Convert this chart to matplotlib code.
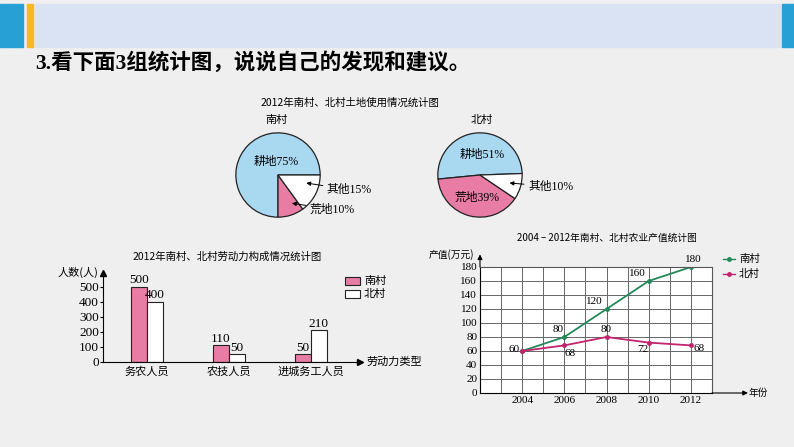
import matplotlib
matplotlib.use('Agg')
import matplotlib.pyplot as plt
from matplotlib.patches import Rectangle
import numpy as np

plt.rcParams['font.family'] = ['Noto Sans CJK SC', 'DejaVu Sans']
SERIF = ['Liberation Serif', 'Noto Sans CJK SC']

# data
land_parts = ['耕地', '荒地', '其他']
south_land = [75, 10, 15]
north_land = [51, 39, 10]

labor_cats = ['务农人员', '农技人员', '进城务工人员']
labor_south = [500, 110, 50]
labor_north = [400, 50, 210]

years = [2004, 2006, 2008, 2010, 2012]
value_south = [60, 80, 120, 160, 180]
value_north = [60, 68, 80, 72, 68]

W, H = 794, 447
BLUE = '#a9d8f1'
PINK = '#e87ca5'
GREEN = '#23895a'
MAGENTA = '#c2246e'
EDGE = '#222222'

fig = plt.figure(figsize=(W / 100, H / 100), dpi=100)
fig.patch.set_facecolor('#efefef')


def box(x0, y0, x1, y1):
    # pixel box (top-left origin) -> figure fraction rect
    return [x0 / W, 1 - y1 / H, (x1 - x0) / W, (y1 - y0) / H]


# background / header, in pixel coords
bg = fig.add_axes([0, 0, 1, 1])
bg.set_xlim(0, W)
bg.set_ylim(H, 0)
bg.axis('off')
bg.add_patch(Rectangle((35, 4), 745, 43, color='#dae3f3'))
bg.add_patch(Rectangle((0, 4), 23, 43, color='#27a0d6'))
bg.add_patch(Rectangle((27, 4), 6, 43, color='#f5b925'))
bg.add_patch(Rectangle((782, 4), 12, 43, color='#27a0d6'))
bg.text(35, 63, '3.看下面3组统计图，说说自己的发现和建议。', fontsize=15.5,
        fontweight='bold', family=SERIF, va='center', ha='left')

# ---- pies ----
bg.text(350, 103, '2012年南村、北村土地使用情况统计图', fontsize=7.5,
        ha='center', va='center')
bg.text(277, 120, '南村', fontsize=8, ha='center', va='center')
bg.text(482, 120, '北村', fontsize=8, ha='center', va='center')

pie_colors = [BLUE, PINK, 'white']
arrow = dict(arrowstyle='-|>', color='k', lw=0.7, mutation_scale=6,
             shrinkA=1, shrinkB=0)

ax1 = fig.add_axes(box(235, 132, 321, 218))
ax1.pie(south_land, colors=pie_colors, startangle=0, counterclock=True,
        wedgeprops=dict(edgecolor=EDGE, linewidth=0.9))
ax1.set_xlim(-1.02, 1.02)
ax1.set_ylim(-1.02, 1.02)
ax1.text(-0.05, 0.30, f'{land_parts[0]}{south_land[0]}%', fontsize=8.5,
         family=SERIF, ha='center', va='center')
ax1.annotate(f'{land_parts[2]}{south_land[2]}%', xy=(0.67, -0.19),
             xytext=(1.16, -0.35), fontsize=8.5, family=SERIF,
             ha='left', va='center', arrowprops=arrow, annotation_clip=False)
ax1.annotate(f'{land_parts[1]}{south_land[1]}%', xy=(0.33, -0.67),
             xytext=(0.76, -0.82), fontsize=8.5, family=SERIF,
             ha='left', va='center', arrowprops=arrow, annotation_clip=False)

ax2 = fig.add_axes(box(437, 132, 523, 218))
ax2.pie(north_land, colors=pie_colors, startangle=2, counterclock=True,
        wedgeprops=dict(edgecolor=EDGE, linewidth=0.9))
ax2.set_xlim(-1.02, 1.02)
ax2.set_ylim(-1.02, 1.02)
ax2.text(0.05, 0.47, f'{land_parts[0]}{north_land[0]}%', fontsize=8.5,
         family=SERIF, ha='center', va='center')
ax2.text(-0.07, -0.53, f'{land_parts[1]}{north_land[1]}%', fontsize=8.5,
         family=SERIF, ha='center', va='center')
ax2.annotate(f'{land_parts[2]}{north_land[2]}%', xy=(0.70, -0.19),
             xytext=(1.14, -0.27), fontsize=8.5, family=SERIF,
             ha='left', va='center', arrowprops=arrow, annotation_clip=False)

# ---- bar chart ----
bg.text(227, 257, '2012年南村、北村劳动力构成情况统计图', fontsize=7.5,
        ha='center', va='center')
bg.text(78, 272, '人数(人)', fontsize=8, ha='center', va='center')
bg.text(366, 362, '劳动力类型', fontsize=8, ha='left', va='center')

ax3 = fig.add_axes(box(103, 273, 360, 362))
ax3.set_facecolor('none')
x = np.arange(len(labor_cats))
w = 0.195
ax3.bar(x - w / 2, labor_south, w, color=PINK, edgecolor=EDGE, linewidth=0.8)
ax3.bar(x + w / 2, labor_north, w, color='white', edgecolor=EDGE, linewidth=0.8)
for xi, v in zip(x - w / 2, labor_south):
    ax3.text(xi, v + 4, str(v), ha='center', va='bottom', fontsize=9.5, family=SERIF)
for xi, v in zip(x + w / 2, labor_north):
    ax3.text(xi, v + 4, str(v), ha='center', va='bottom', fontsize=9.5, family=SERIF)
ax3.set_xlim(-0.54, 2.6)
ax3.set_ylim(0, 590)
ax3.set_yticks(range(0, 501, 100))
ax3.set_yticklabels([str(t) for t in range(0, 501, 100)], family=SERIF, fontsize=9.5)
ax3.set_xticks(x)
ax3.set_xticklabels(labor_cats, fontsize=8)
ax3.tick_params(axis='x', length=0, pad=3)
ax3.tick_params(axis='y', length=2, pad=1)
ax3.spines[['top', 'right']].set_visible(False)
ax3.plot(0, 1, '^', color='k', ms=4, transform=ax3.transAxes, clip_on=False)
ax3.plot(1, 0, '>', color='k', ms=4, transform=ax3.transAxes, clip_on=False)

bg.add_patch(Rectangle((345, 277), 15, 8, fc=PINK, ec=EDGE, lw=0.8))
bg.add_patch(Rectangle((345, 290), 15, 8, fc='white', ec=EDGE, lw=0.8))
bg.text(364, 281, '南村', fontsize=8, va='center')
bg.text(364, 294, '北村', fontsize=8, va='center')

# ---- line chart ----
bg.text(607, 238, '2004 – 2012年南村、北村农业产值统计图', fontsize=7,
        ha='center', va='center')
bg.text(451, 255, '产值(万元)', fontsize=7, ha='center', va='center')
bg.text(758, 393, '年份', fontsize=7, ha='center', va='center')

ax4 = fig.add_axes(box(480, 267, 712, 393))
ax4.set_facecolor('white')
ax4.set_xlim(2002, 2013)
ax4.set_ylim(0, 180)
ax4.set_xticks(years)
ax4.set_xticks(range(2002, 2014), minor=True)
ax4.set_yticks(range(0, 181, 20))
ax4.set_xticklabels([str(y) for y in years], family=SERIF, fontsize=8)
ax4.set_yticklabels([str(t) for t in range(0, 181, 20)], family=SERIF, fontsize=8)
ax4.tick_params(which='both', length=0, pad=2)
ax4.grid(True, which='both', color='#666666', lw=0.7)
ax4.set_axisbelow(True)
for s in ax4.spines.values():
    s.set_color('#555555')
    s.set_linewidth(0.8)
ax4.spines['left'].set_color('k')
ax4.spines['bottom'].set_color('k')
ax4.annotate('', xy=(0, 1.1), xytext=(0, 1.0), xycoords='axes fraction',
             arrowprops=dict(arrowstyle='-|>', color='k', lw=0.8, mutation_scale=7,
                             shrinkA=0, shrinkB=0))
ax4.annotate('', xy=(1.155, 0), xytext=(1.0, 0), xycoords='axes fraction',
             arrowprops=dict(arrowstyle='-|>', color='k', lw=0.8, mutation_scale=7,
                             shrinkA=0, shrinkB=0))

ax4.plot(years, value_south, color=GREEN, lw=1.3, marker='o', ms=2.5)
ax4.plot(years, value_north, color=MAGENTA, lw=1.3, marker='o', ms=2.5)

south_off = [(-8, 2), (-6, 7), (-12, 7), (-11, 7), (2, 7)]
north_off = [None, (6, -8), (0, 7), (-6, -7), (8, -3)]
for yr, v, off in zip(years, value_south, south_off):
    ax4.annotate(str(v), (yr, v), xytext=off, textcoords='offset pixels',
                 ha='center', va='center', fontsize=8, family=SERIF)
for yr, v, off in zip(years, value_north, north_off):
    if off is None:
        continue
    ax4.annotate(str(v), (yr, v), xytext=off, textcoords='offset pixels',
                 ha='center', va='center', fontsize=8, family=SERIF)

bg.plot([723, 735], [259, 259], color=GREEN, lw=1)
bg.plot([729], [259], 'o', color=GREEN, ms=2.5)
bg.plot([723, 735], [274, 274], color=MAGENTA, lw=1)
bg.plot([729], [274], 'o', color=MAGENTA, ms=2.5)
bg.text(739, 259, '南村', fontsize=7.5, va='center')
bg.text(739, 274, '北村', fontsize=7.5, va='center')

fig.savefig('out.png', dpi=100, facecolor=fig.get_facecolor())
